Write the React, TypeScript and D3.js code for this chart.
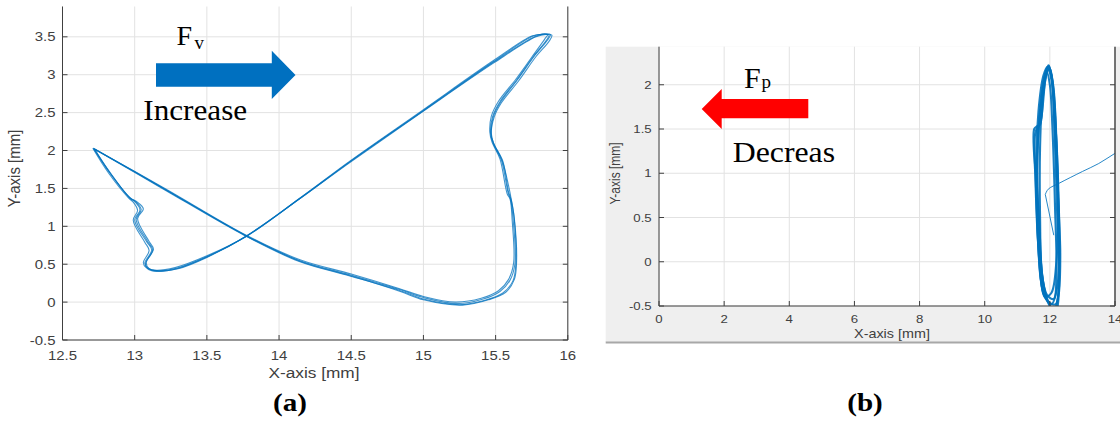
import React from "react";
import * as d3 from "d3";

// ---------- data ----------
const leftXTicks = [12.5, 13, 13.5, 14, 14.5, 15, 15.5, 16];
const leftYTicks = [-0.5, 0, 0.5, 1, 1.5, 2, 2.5, 3, 3.5];
const rightXTicks = [0, 2, 4, 6, 8, 10, 12, 14];
const rightYTicks = [-0.5, 0, 0.5, 1, 1.5, 2];

const leftCycleA: [number, number][] = [[12.713,2.03],[13.2,1.5],[13.776,0.873],[14.145,0.545],[14.49,0.36],[14.837,0.165],[15.0,0.06],[15.23,-0.02],[15.414,0.04],[15.53,0.14],[15.6,0.29],[15.634,0.51],[15.622,1.08],[15.604,1.35],[15.587,1.44],[15.54,1.875],[15.483,2.095],[15.465,2.227],[15.479,2.446],[15.53,2.644],[15.645,2.93],[15.76,3.237],[15.853,3.457],[15.87,3.524],[15.83,3.533],[15.76,3.51],[15.483,3.17],[15.0,2.53],[14.49,1.85],[14.145,1.37],[13.776,0.873],[13.5,0.6],[13.29,0.447],[13.152,0.415],[13.094,0.447],[13.07,0.513],[13.118,0.688],[13.083,0.798],[13.0,1.084],[13.037,1.216],[13.0,1.326],[12.967,1.37],[12.83,1.7],[12.713,2.03]];
const leftCycleB: [number, number][] = [[12.72,2.02],[13.2,1.49],[13.77,0.87],[14.14,0.535],[14.49,0.345],[14.84,0.15],[15.0,0.04],[15.25,-0.035],[15.42,0.02],[15.55,0.12],[15.62,0.28],[15.64,0.5],[15.63,1.08],[15.61,1.34],[15.59,1.45],[15.55,1.86],[15.49,2.08],[15.47,2.2],[15.49,2.44],[15.54,2.63],[15.66,2.92],[15.78,3.24],[15.87,3.44],[15.89,3.52],[15.85,3.53],[15.78,3.5],[15.49,3.16],[15.0,2.52],[14.49,1.84],[14.14,1.36],[13.77,0.87],[13.5,0.59],[13.3,0.44],[13.16,0.41],[13.1,0.44],[13.08,0.52],[13.13,0.7],[13.1,0.8],[13.02,1.1],[13.06,1.23],[13.01,1.33],[12.97,1.37],[12.83,1.71],[12.72,2.02]];
const leftCycleC: [number, number][] = [[12.71,2.03],[13.2,1.51],[13.78,0.875],[14.15,0.555],[14.5,0.37],[14.83,0.18],[15.0,0.075],[15.22,0.0],[15.4,0.05],[15.52,0.15],[15.59,0.3],[15.625,0.52],[15.615,1.07],[15.6,1.36],[15.58,1.43],[15.53,1.89],[15.475,2.11],[15.46,2.24],[15.47,2.45],[15.52,2.65],[15.64,2.94],[15.75,3.23],[15.84,3.47],[15.86,3.53],[15.82,3.535],[15.75,3.51],[15.48,3.18],[15.0,2.54],[14.49,1.86],[14.15,1.38],[13.78,0.875],[13.5,0.61],[13.28,0.455],[13.14,0.42],[13.08,0.455],[13.06,0.52],[13.1,0.68],[13.07,0.79],[12.99,1.08],[13.02,1.21],[12.99,1.32],[12.96,1.37],[12.82,1.7],[12.71,2.03]];
const leftCycleD: [number, number][] = [[12.72,2.025],[13.2,1.5],[13.775,0.87],[14.145,0.54],[14.49,0.35],[14.84,0.14],[15.0,0.03],[15.27,-0.04],[15.45,0.03],[15.57,0.13],[15.63,0.3],[15.645,0.52],[15.63,1.1],[15.61,1.33],[15.6,1.44],[15.545,1.87],[15.485,2.1],[15.47,2.23],[15.485,2.45],[15.535,2.64],[15.65,2.93],[15.77,3.25],[15.86,3.46],[15.88,3.53],[15.84,3.54],[15.77,3.5],[15.485,3.165],[15.0,2.525],[14.49,1.85],[14.145,1.365],[13.775,0.87],[13.5,0.595],[13.29,0.44],[13.15,0.405],[13.09,0.44],[13.075,0.51],[13.125,0.69],[13.09,0.8],[13.01,1.09],[13.045,1.22],[13.005,1.33],[12.97,1.375],[12.83,1.7],[12.72,2.025]];
const leftCycles = [leftCycleA, leftCycleB, leftCycleC, leftCycleD];

const rightLoop1: [number, number][] = [[11.96,2.22],[12.1,2.0],[12.2,1.4],[12.27,0.7],[12.3,0.0],[12.25,-0.4],[12.12,-0.55],[11.9,-0.42],[11.75,-0.1],[11.65,0.5],[11.62,1.2],[11.72,1.8],[11.85,2.12]];
const rightLoop2: [number, number][] = [[11.92,2.2],[12.05,2.05],[12.15,1.5],[12.24,0.8],[12.32,0.1],[12.28,-0.35],[12.18,-0.58],[11.95,-0.45],[11.78,-0.2],[11.68,0.4],[11.58,1.1],[11.65,1.7],[11.8,2.1]];
const rightLoop3: [number, number][] = [[12.0,2.18],[12.12,1.9],[12.22,1.1],[12.28,0.3],[12.24,-0.25],[12.05,-0.48],[11.82,-0.38],[11.68,0.0],[11.6,0.8],[11.66,1.5],[11.86,2.08]];
const rightLoop4: [number, number][] = [[11.52,1.5],[11.6,1.53],[11.7,1.55],[11.8,1.9],[11.95,2.2],[12.05,2.1],[12.15,1.4],[12.22,0.6],[12.27,-0.1],[12.18,-0.48],[11.95,-0.45],[11.78,-0.32],[11.64,0.2],[11.55,1.0]];
const rightLoop5: [number, number][] = [[11.55,1.45],[11.57,0.9],[11.63,0.3],[11.72,-0.2],[11.85,-0.4],[12.05,-0.35],[12.2,0.0],[12.25,0.8],[12.18,1.5],[12.07,2.05],[11.97,2.21],[11.86,2.05],[11.72,1.6]];
const rightLoop6: [number, number][] = [[11.9,2.15],[12.0,2.0],[12.08,1.5],[12.16,0.6],[12.2,-0.1],[12.12,-0.42],[11.92,-0.38],[11.76,-0.15],[11.7,0.5],[11.7,1.3],[11.78,1.9]];
const rightLoops = [rightLoop1, rightLoop2, rightLoop3, rightLoop4, rightLoop5, rightLoop6];
const rightLink: [number, number][] = [[12.12,0.3],[11.86,0.76]];
const rightExit: [number, number][] = [[11.86,0.76],[11.95,0.82],[12.3,0.89],[13.0,1.02],[13.5,1.11],[14.0,1.225],[14.4,1.31]];

// ---------- layout ----------
const W = 1120, H = 423;
const BLUE = "#0072BD";
const AX = "#404040";
const GRID = "#e2e2e2";
const SANS = "'Liberation Sans', Arial, Helvetica, sans-serif";
const SERIF = "'Liberation Serif', 'Times New Roman', serif";
const SX = 1.15;

function SText(props: { x: number; y: number; sx?: number; anchor?: string; size: number; family?: string; weight?: string | number; fill?: string; rotate?: number; children: React.ReactNode }) {
  const { x, y, sx = SX, anchor = "start", size, family = SANS, weight = "normal", fill = AX, rotate = 0, children } = props;
  const t = rotate
    ? `translate(${x},${y}) scale(${sx},1) rotate(${rotate})`
    : `translate(${x},${y}) scale(${sx},1)`;
  return (
    <text transform={t} textAnchor={anchor} fontSize={size} fontFamily={family} fontWeight={weight} fill={fill}>
      {children}
    </text>
  );
}

export default function App() {
  const lx = d3.scaleLinear().domain([12.5, 16]).range([62.5, 567.8]);
  const ly = d3.scaleLinear().domain([-0.5, 3.9]).range([340, 6.5]);
  const rx = d3.scaleLinear().domain([0, 14]).range([659, 1115]);
  const ry = d3.scaleLinear().domain([-0.5, 2.43]).range([306, 46.7]);

  const leftLine = d3.line<[number, number]>().x(d => lx(d[0])).y(d => ly(d[1])).curve(d3.curveCatmullRom.alpha(0.5));
  const rightLoopLine = d3.line<[number, number]>().x(d => rx(d[0])).y(d => ry(d[1])).curve(d3.curveCatmullRomClosed.alpha(0.5));
  const rightOpen = d3.line<[number, number]>().x(d => rx(d[0])).y(d => ry(d[1])).curve(d3.curveCatmullRom.alpha(0.5));
  const rightStraight = d3.line<[number, number]>().x(d => rx(d[0])).y(d => ry(d[1]));

  const [lx0, lx1] = lx.range();
  const [ly0, ly1] = ly.range();
  const [rx0, rx1] = rx.range();
  const [ry0, ry1] = ry.range();
  const tk = 5;

  return (
    <svg width={W} height={H} style={{ position: "absolute", left: 0, top: 0, background: "#fff" }}>
      <defs>
        <clipPath id="clipL"><rect x={lx0} y={ly1} width={lx1 - lx0} height={ly0 - ly1} /></clipPath>
        <clipPath id="clipR"><rect x={rx0} y={ry1} width={rx1 - rx0} height={ry0 - ry1} /></clipPath>
      </defs>

      {/* ================= LEFT PANEL ================= */}
      <g>
        {leftXTicks.map(t => (
          <line key={"lgx" + t} x1={lx(t)} x2={lx(t)} y1={ly0} y2={ly1} stroke={GRID} strokeWidth={1} />
        ))}
        {leftYTicks.map(t => (
          <line key={"lgy" + t} x1={lx0} x2={lx1} y1={ly(t)} y2={ly(t)} stroke={GRID} strokeWidth={1} />
        ))}
        <g clipPath="url(#clipL)">
          {leftCycles.map((c, i) => (
            <path key={"lc" + i} d={leftLine(c) || ""} fill="none" stroke={BLUE} strokeWidth={1.1} strokeOpacity={0.75} />
          ))}
        </g>
        <line x1={lx0} x2={lx0} y1={ly1} y2={ly0} stroke={AX} strokeWidth={1} />
        <line x1={lx1} x2={lx1} y1={ly1} y2={ly0} stroke={AX} strokeWidth={1} />
        <line x1={lx0} x2={lx1} y1={ly0} y2={ly0} stroke={AX} strokeWidth={1} />
        {leftXTicks.map(t => (
          <line key={"ltx" + t} x1={lx(t)} x2={lx(t)} y1={ly0} y2={ly0 - tk} stroke={AX} strokeWidth={1} />
        ))}
        {leftYTicks.map(t => (
          <g key={"lty" + t}>
            <line x1={lx0} x2={lx0 + tk} y1={ly(t)} y2={ly(t)} stroke={AX} strokeWidth={1} />
            <line x1={lx1} x2={lx1 - tk} y1={ly(t)} y2={ly(t)} stroke={AX} strokeWidth={1} />
          </g>
        ))}
        {leftXTicks.map(t => (
          <SText key={"lxl" + t} x={lx(t)} y={359.5} anchor="middle" size={13}>{String(t)}</SText>
        ))}
        {leftYTicks.map(t => (
          <SText key={"lyl" + t} x={55.5} y={ly(t) + 4.6} anchor="end" size={13}>{String(t)}</SText>
        ))}
        <SText x={314} y={377.5} anchor="middle" size={15}>X-axis [mm]</SText>
        <SText x={19.5} y={168.5} anchor="middle" size={15} rotate={-90}>Y-axis [mm]</SText>

        <text x={176.5} y={45} fontFamily={SERIF} fontSize={28} fill="#000">F</text>
        <text x={194.5} y={48.5} fontFamily={SERIF} fontSize={19} fill="#000">v</text>
        <path d="M156,63.3 L271.8,63.3 L271.8,50.7 L295.5,75 L271.8,99 L271.8,86.7 L156,86.7 Z" fill="#0070C0" />
        <SText x={143.3} y={120} sx={1.04} size={30} family={SERIF} fill="#000">Increase</SText>

        <SText x={290} y={411} anchor="middle" sx={1.12} size={26} family={SERIF} weight="bold" fill="#000">(a)</SText>
      </g>

      {/* ================= RIGHT PANEL ================= */}
      <g>
        <rect x={605.7} y={ry1} width={W - 605.7} height={342 - ry1} fill="#efefef" />
        <line x1={605.7} x2={W} y1={342.5} y2={342.5} stroke="#a8a8a8" strokeWidth={2} />
        <rect x={rx0} y={ry1} width={rx1 - rx0} height={ry0 - ry1} fill="#fff" />
        {rightXTicks.map(t => (
          <line key={"rgx" + t} x1={rx(t)} x2={rx(t)} y1={ry0} y2={ry1} stroke={GRID} strokeWidth={1} />
        ))}
        {rightYTicks.map(t => (
          <line key={"rgy" + t} x1={rx0} x2={rx1} y1={ry(t)} y2={ry(t)} stroke={GRID} strokeWidth={1} />
        ))}
        <g clipPath="url(#clipR)">
          {rightLoops.map((c, i) => (
            <path key={"rl" + i} d={rightLoopLine(c) || ""} fill="none" stroke={BLUE} strokeWidth={2.1} strokeOpacity={0.9} />
          ))}
          <path d={rightStraight(rightLink) || ""} fill="none" stroke={BLUE} strokeWidth={1} strokeOpacity={0.85} />
          <path d={rightOpen(rightExit) || ""} fill="none" stroke={BLUE} strokeWidth={1} strokeOpacity={0.85} />
        </g>
        <line x1={rx0} x2={rx0} y1={ry1} y2={ry0} stroke={AX} strokeWidth={1} />
        <line x1={rx1} x2={rx1} y1={ry1} y2={ry0} stroke={AX} strokeWidth={1.4} />
        <line x1={rx0} x2={rx1} y1={ry0} y2={ry0} stroke={AX} strokeWidth={1} />
        {rightXTicks.map(t => (
          <line key={"rtx" + t} x1={rx(t)} x2={rx(t)} y1={ry0} y2={ry0 - tk} stroke={AX} strokeWidth={1} />
        ))}
        {rightYTicks.map(t => (
          <g key={"rty" + t}>
            <line x1={rx0} x2={rx0 + tk} y1={ry(t)} y2={ry(t)} stroke={AX} strokeWidth={1} />
            <line x1={rx1} x2={rx1 - tk} y1={ry(t)} y2={ry(t)} stroke={AX} strokeWidth={1} />
          </g>
        ))}
        {rightXTicks.map(t => (
          <SText key={"rxl" + t} x={rx(t)} y={322.5} anchor="middle" size={11.5}>{String(t)}</SText>
        ))}
        {rightYTicks.map(t => (
          <SText key={"ryl" + t} x={651.7} y={ry(t) + 4.2} anchor="end" size={11.5}>{String(t)}</SText>
        ))}
        <SText x={892} y={338} anchor="middle" size={12.5}>X-axis [mm]</SText>
        <SText x={620} y={173.5} anchor="middle" size={12} rotate={-90}>Y-axis [mm]</SText>

        <text x={744} y={88} fontFamily={SERIF} fontSize={30} fill="#000">F</text>
        <text x={761.5} y={88} fontFamily={SERIF} fontSize={19} fill="#000">p</text>
        <path d="M808.3,99 L721.7,99 L721.7,89 L701.7,109 L721.7,129 L721.7,118.3 L808.3,118.3 Z" fill="#FF0000" />
        <SText x={732.7} y={161.7} sx={1.06} size={30} family={SERIF} fill="#000">Decreas</SText>

        <SText x={865} y={411} anchor="middle" sx={1.12} size={26} family={SERIF} weight="bold" fill="#000">(b)</SText>
      </g>
    </svg>
  );
}
